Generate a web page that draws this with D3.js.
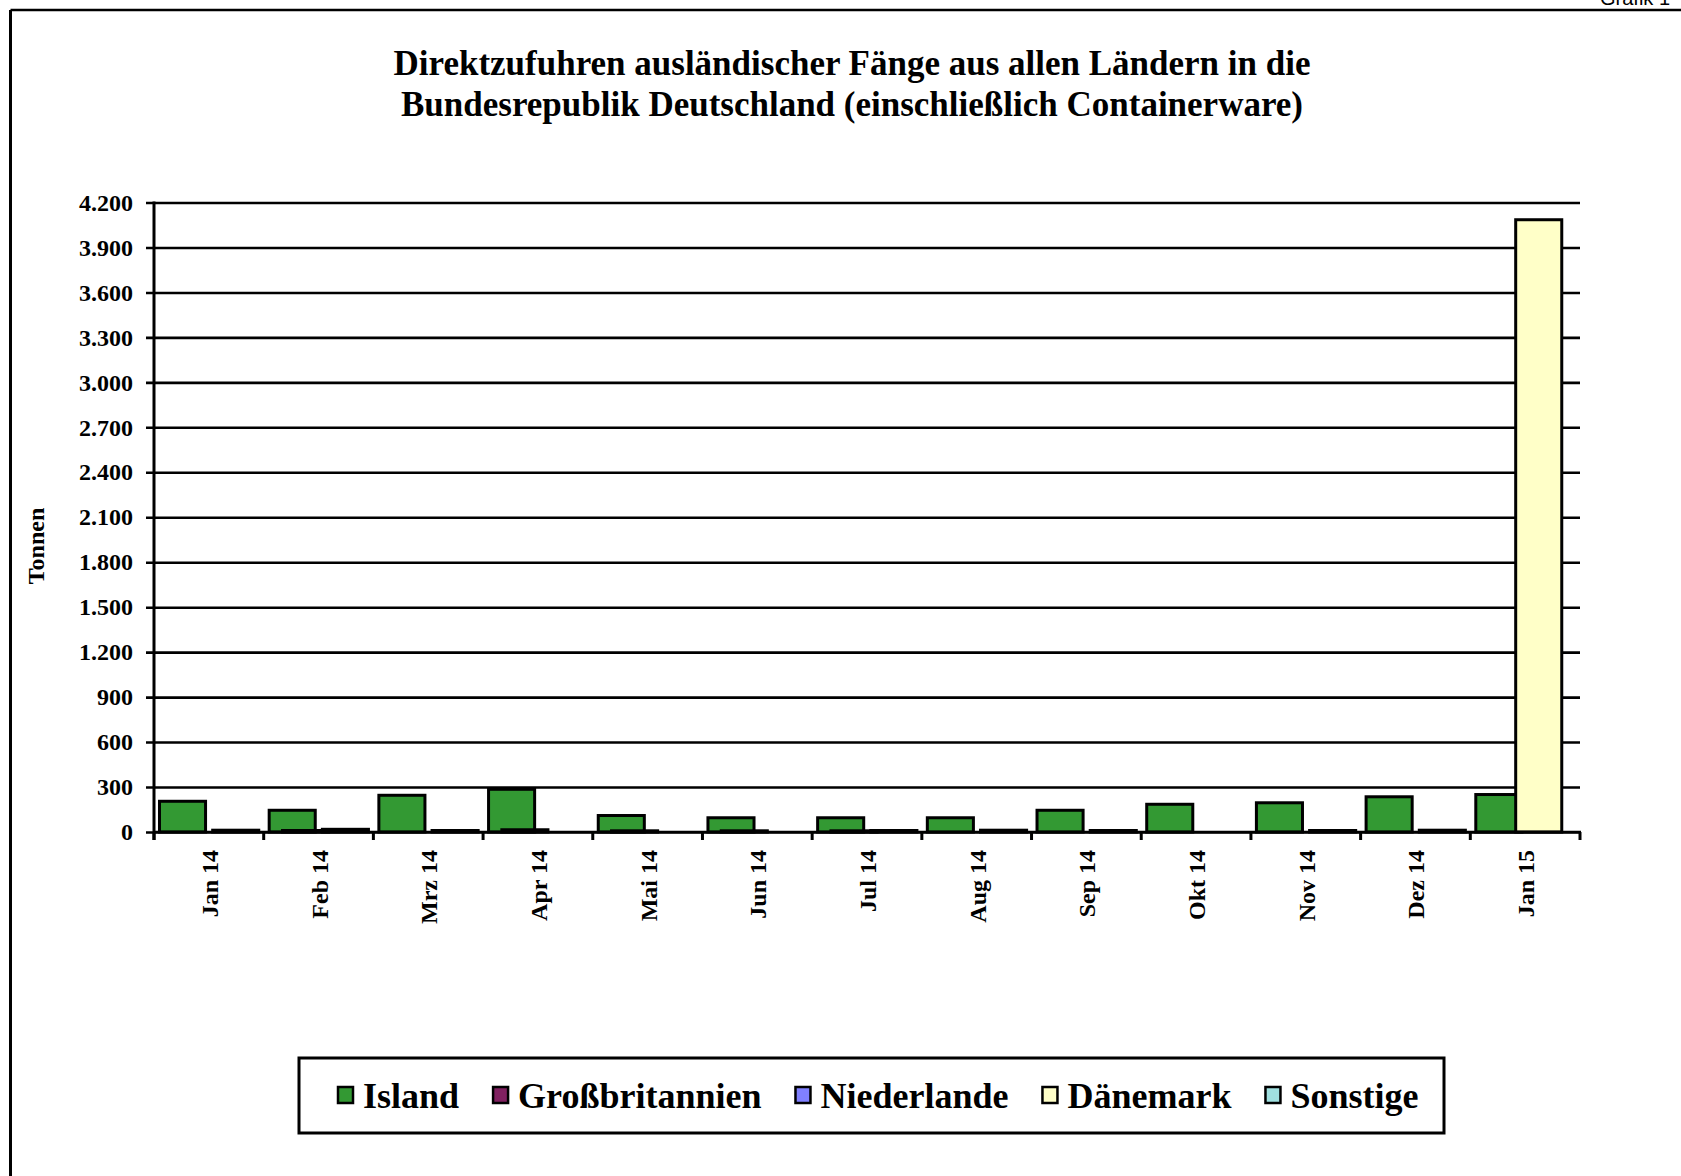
<!DOCTYPE html>
<html>
<head>
<meta charset="utf-8">
<script src="https://cdn.jsdelivr.net/npm/d3@7"></script>
<style>
    body { margin: 0; background: #fff; }
    svg text { font-family: "Liberation Serif", "Times New Roman", serif; font-weight: bold; fill: #000; }
</style>
</head>
<body>
<div id="chart"></div>
<script>
// Chart data (tonnes per month and country)
var months = ["Jan 14", "Feb 14", "Mrz 14", "Apr 14", "Mai 14", "Jun 14", "Jul 14",
              "Aug 14", "Sep 14", "Okt 14", "Nov 14", "Dez 14", "Jan 15"];
var seriesNames = ["Island", "Großbritannien", "Niederlande", "Dänemark", "Sonstige"];
var island          = [205, 145, 245, 285, 110, 95, 95, 95, 145, 185, 195, 235, 250];
var grossbritannien = [0, 10, 0, 15, 8, 8, 8, 0, 0, 0, 0, 0, 0];
var niederlande     = [0, 0, 0, 0, 0, 0, 0, 0, 0, 0, 0, 0, 0];
var daenemark       = [0, 0, 0, 0, 0, 0, 0, 0, 0, 0, 0, 0, 4085];
var sonstige        = [12, 18, 10, 0, 0, 0, 10, 12, 10, 0, 10, 12, 0];
var yTicks = d3.range(0, 4201, 300);
var titleLines = ["Direktzufuhren ausländischer Fänge aus allen Ländern in die",
                  "Bundesrepublik Deutschland (einschließlich Containerware)"];

var seriesValues = [island, grossbritannien, niederlande, daenemark, sonstige];

// Chart dimensions
var properties = { width: 1681, height: 1176 };
var plot = { left: 154, right: 1580, top: 202.5, bottom: 832 };

var color = d3.scaleOrdinal()
    .domain(seriesNames)
    .range(["#339933", "#802060", "#8080ff", "#ffffc8", "#a0e0e0"]);

// German number format (4.200)
var de = d3.formatLocale({ decimal: ",", thousands: ".", grouping: [3], currency: ["", " €"] });
var fmt = de.format(",d");

var svg = d3.select("#chart")
    .append("svg")
    .attr("width", properties.width)
    .attr("height", properties.height);

// Outer frame (top and left edges visible)
svg.append("line").attr("x1", 10.5).attr("x2", properties.width).attr("y1", 10).attr("y2", 10)
    .attr("stroke", "#000").attr("stroke-width", 2.5);
svg.append("line").attr("x1", 10.5).attr("x2", 10.5).attr("y1", 10).attr("y2", properties.height)
    .attr("stroke", "#000").attr("stroke-width", 3);

// Page label, cut at the top edge as in the scan
svg.append("text")
    .attr("x", 1600).attr("y", 5)
    .style("font-family", "'Liberation Sans', Arial, sans-serif")
    .style("font-weight", "normal")
    .style("font-size", "20px")
    .text("Grafik 1");

// Title
svg.append("g").selectAll("text")
    .data(titleLines)
    .enter()
    .append("text")
    .attr("x", 852)
    .attr("y", function (d, i) { return 75 + i * 41; })
    .attr("text-anchor", "middle")
    .style("font-size", "35px")
    .text(function (d) { return d; });

// Scales
var x = d3.scaleBand()
    .domain(months)
    .range([plot.left, plot.right])
    .paddingInner(0)
    .paddingOuter(0);

var y = d3.scaleLinear()
    .domain([0, 4200])
    .range([plot.bottom, plot.top]);

var band = x.bandwidth();
var barWidth = band * 0.42;
var offset = d3.scaleLinear()
    .domain([0, seriesNames.length - 1])
    .range([band * 0.05, band * 0.05 + band * 0.485]);

// Grid lines with outside ticks
var yAxis = svg.append("g")
    .attr("transform", "translate(" + plot.left + ",0)")
    .call(d3.axisLeft(y).tickValues(yTicks).tickSize(-(plot.right - plot.left)).tickFormat(fmt));
yAxis.select(".domain").remove();
yAxis.selectAll(".tick line")
    .attr("x1", -8)
    .attr("stroke", "#000")
    .attr("stroke-width", 2.6);
yAxis.selectAll(".tick text")
    .attr("x", -21)
    .style("font-size", "24px")
    .style("font-family", "'Liberation Serif', serif");

// Bars, one series after another so later series lie on top
seriesNames.forEach(function (name, si) {
    svg.append("g")
        .attr("class", "series")
        .selectAll("rect")
        .data(months.map(function (m, i) { return { month: m, value: seriesValues[si][i] }; })
            .filter(function (d) { return d.value > 0; }))
        .enter()
        .append("rect")
        .attr("x", function (d) { return x(d.month) + offset(si); })
        .attr("y", function (d) { return y(d.value); })
        .attr("width", barWidth)
        .attr("height", function (d) { return plot.bottom - y(d.value); })
        .attr("fill", color(name))
        .attr("stroke", "#000")
        .attr("stroke-width", 3);
});

// Y axis line
svg.append("line")
    .attr("x1", plot.left).attr("x2", plot.left)
    .attr("y1", plot.top - 1).attr("y2", plot.bottom + 8)
    .attr("stroke", "#000").attr("stroke-width", 3);

// X axis line and tick marks at category boundaries
svg.append("line")
    .attr("x1", plot.left).attr("x2", plot.right + 1)
    .attr("y1", plot.bottom).attr("y2", plot.bottom)
    .attr("stroke", "#000").attr("stroke-width", 2.6);

var boundaries = months.map(function (m) { return x(m); }).concat([plot.right]);
svg.append("g").selectAll("line")
    .data(boundaries)
    .enter()
    .append("line")
    .attr("x1", function (d) { return d; })
    .attr("x2", function (d) { return d; })
    .attr("y1", plot.bottom)
    .attr("y2", plot.bottom + 8)
    .attr("stroke", "#000")
    .attr("stroke-width", 3);

// Month labels, rotated
svg.append("g").selectAll("text")
    .data(months)
    .enter()
    .append("text")
    .attr("transform", function (d) {
        return "translate(" + (x(d) + band / 2 + 9) + "," + 850 + ") rotate(-90)";
    })
    .attr("text-anchor", "end")
    .style("font-size", "24px")
    .text(function (d) { return d; });

// Y axis title
svg.append("text")
    .attr("transform", "translate(44,546) rotate(-90)")
    .attr("text-anchor", "middle")
    .style("font-size", "24px")
    .text("Tonnen");

// Legend
var legend = svg.append("g");
legend.append("rect")
    .attr("x", 299).attr("y", 1058)
    .attr("width", 1145).attr("height", 75)
    .attr("fill", "#fff")
    .attr("stroke", "#000")
    .attr("stroke-width", 3);

var lx = 338;
seriesNames.forEach(function (name) {
    legend.append("rect")
        .attr("x", lx).attr("y", 1087)
        .attr("width", 15).attr("height", 16)
        .attr("fill", color(name))
        .attr("stroke", "#000")
        .attr("stroke-width", 2.5);
    var t = legend.append("text")
        .attr("x", lx + 25)
        .attr("y", 1108)
        .style("font-size", "36px")
        .text(name);
    lx += 25 + t.node().getComputedTextLength() + 34;
});
</script>
</body>
</html>
